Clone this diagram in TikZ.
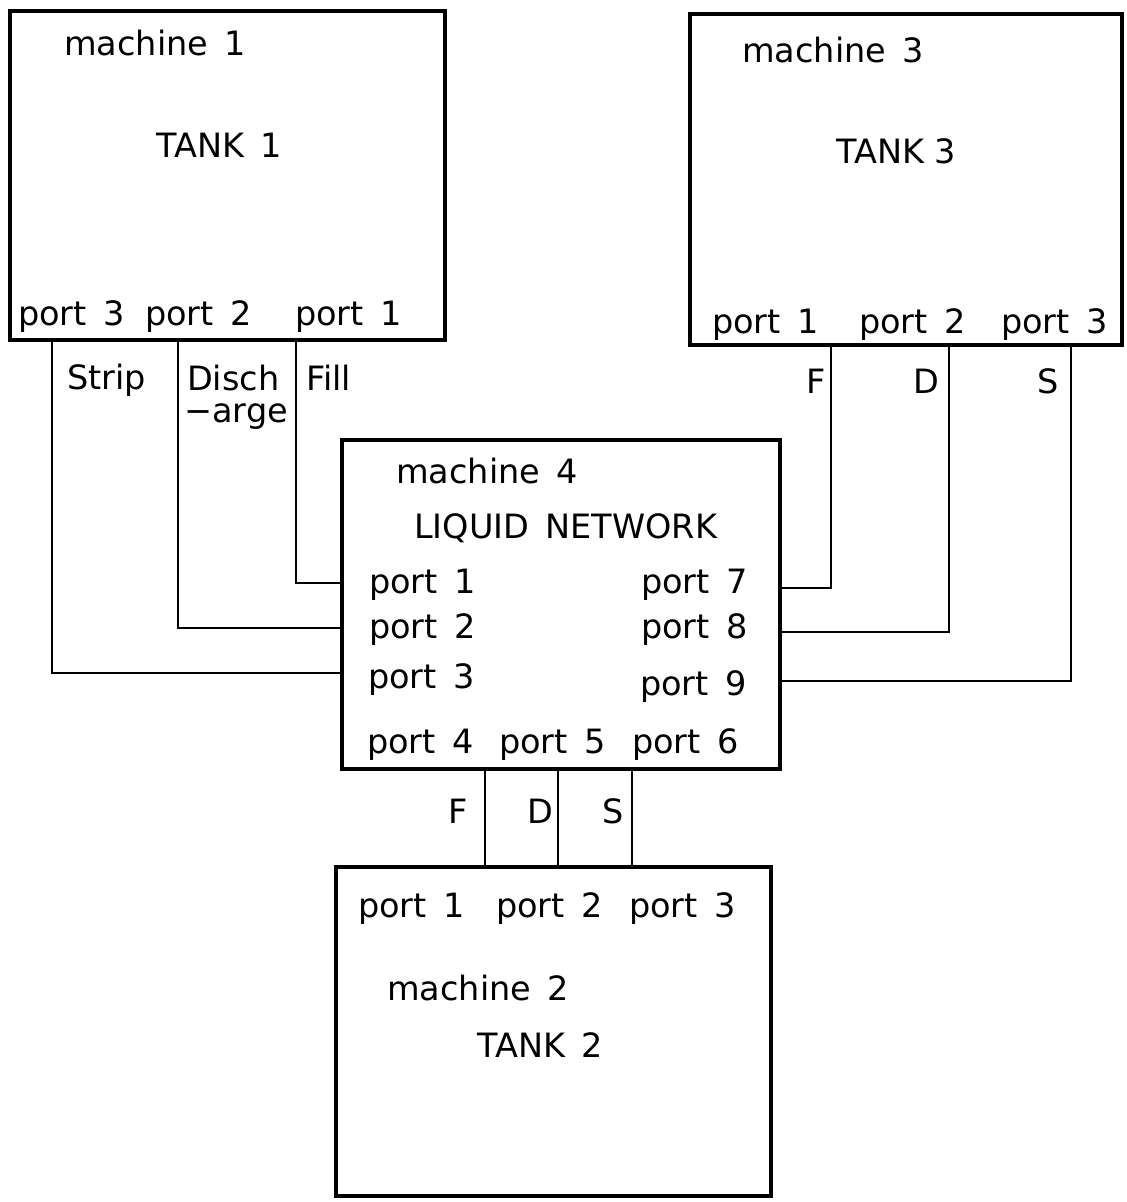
\documentclass[tikz,border=0pt]{standalone}
\usepackage{fontspec}
\setmainfont{DejaVu Sans}
\begin{document}
\begin{tikzpicture}[x=1pt,y=-1pt,
  box/.style={draw, line width=3.4pt, inner sep=0pt, minimum width=#1},
  conn/.style={draw, line width=2.8pt},
  lbl/.style={anchor=base west, inner sep=0pt, font=\fontsize{33.5}{36}\selectfont}]
\useasboundingbox (0,0) rectangle (1127,1202);
% boxes
\node[box=435pt, minimum height=329pt] (m1) at (227.5,175.5) {};
\node[box=432pt, minimum height=331pt] (m3) at (906,179.5) {};
\node[box=438pt, minimum height=329pt] (m4) at (561,604.5) {};
\node[box=435pt, minimum height=329pt] (m2) at (553.5,1031.5) {};
% machine 1 texts
\node[lbl] (t1a) at (64,55) {machine\, 1};
\node[lbl] (t1b) at (156,157) {TANK\, 1};
\node[lbl] (t1p3) at (18,325) {port\, 3};
\node[lbl] (t1p2) at (145,325) {port\, 2};
\node[lbl] (t1p1) at (295,325) {port\, 1};
% machine 3 texts
\node[lbl] (t3a) at (742,62) {machine\, 3};
\node[lbl] (t3b) at (836,163) {TANK 3};
\node[lbl] (t3p1) at (712,333) {port\, 1};
\node[lbl] (t3p2) at (859,333) {port\, 2};
\node[lbl] (t3p3) at (1001,333) {port\, 3};
% machine 4 texts
\node[lbl] (t4a) at (396,483) {machine\, 4};
\node[lbl] (t4b) at (414,538) {LIQUID\, NETWORK};
\node[lbl] (t4p1) at (369,593) {port\, 1};
\node[lbl] (t4p2) at (369,638) {port\, 2};
\node[lbl] (t4p3) at (368,688) {port\, 3};
\node[lbl] (t4p4) at (367,753) {port\, 4};
\node[lbl] (t4p5) at (499,753) {port\, 5};
\node[lbl] (t4p6) at (632,753) {port\, 6};
\node[lbl] (t4p7) at (641,593) {port\, 7};
\node[lbl] (t4p8) at (641,638) {port\, 8};
\node[lbl] (t4p9) at (640,695) {port\, 9};
% machine 2 texts
\node[lbl] (t2p1) at (358,917) {port\, 1};
\node[lbl] (t2p2) at (496,917) {port\, 2};
\node[lbl] (t2p3) at (629,917) {port\, 3};
\node[lbl] (t2a) at (387,1000) {machine\, 2};
\node[lbl] (t2b) at (477,1057) {TANK\, 2};
% connectors machine 1 -> machine 4
\draw[conn] (m1.south -| 52,0) |- (m4.west |- 0,673);
\draw[conn] (m1.south -| 178,0) |- (m4.west |- 0,628);
\draw[conn] (m1.south -| 296,0) |- (m4.west |- 0,583);
\node[lbl] (lstrip) at (67,389) {Strip};
\node[lbl] (ldisch) at (187,390) {Disch};
\node[lbl] (large) at (184,422) {−arge};
\node[lbl] (lfill) at (306,390) {Fill};
% connectors machine 3 -> machine 4
\draw[conn] (m3.south -| 831,0) |- (m4.east |- 0,588);
\draw[conn] (m3.south -| 949,0) |- (m4.east |- 0,632);
\draw[conn] (m3.south -| 1071,0) |- (m4.east |- 0,681);
\node[lbl, anchor=base east] (lf3) at (826,393) {F};
\node[lbl, anchor=base east] (ld3) at (939,393) {D};
\node[lbl, anchor=base east] (ls3) at (1059,393) {S};
% connectors machine 4 -> machine 2
\draw[conn] (m4.south -| 485,0) -- (m2.north -| 485,0);
\draw[conn] (m4.south -| 558,0) -- (m2.north -| 558,0);
\draw[conn] (m4.south -| 632,0) -- (m2.north -| 632,0);
\node[lbl, anchor=base east] (lf2) at (468,823) {F};
\node[lbl, anchor=base east] (ld2) at (553,823) {D};
\node[lbl, anchor=base east] (ls2) at (624,823) {S};
\end{tikzpicture}
\end{document}
